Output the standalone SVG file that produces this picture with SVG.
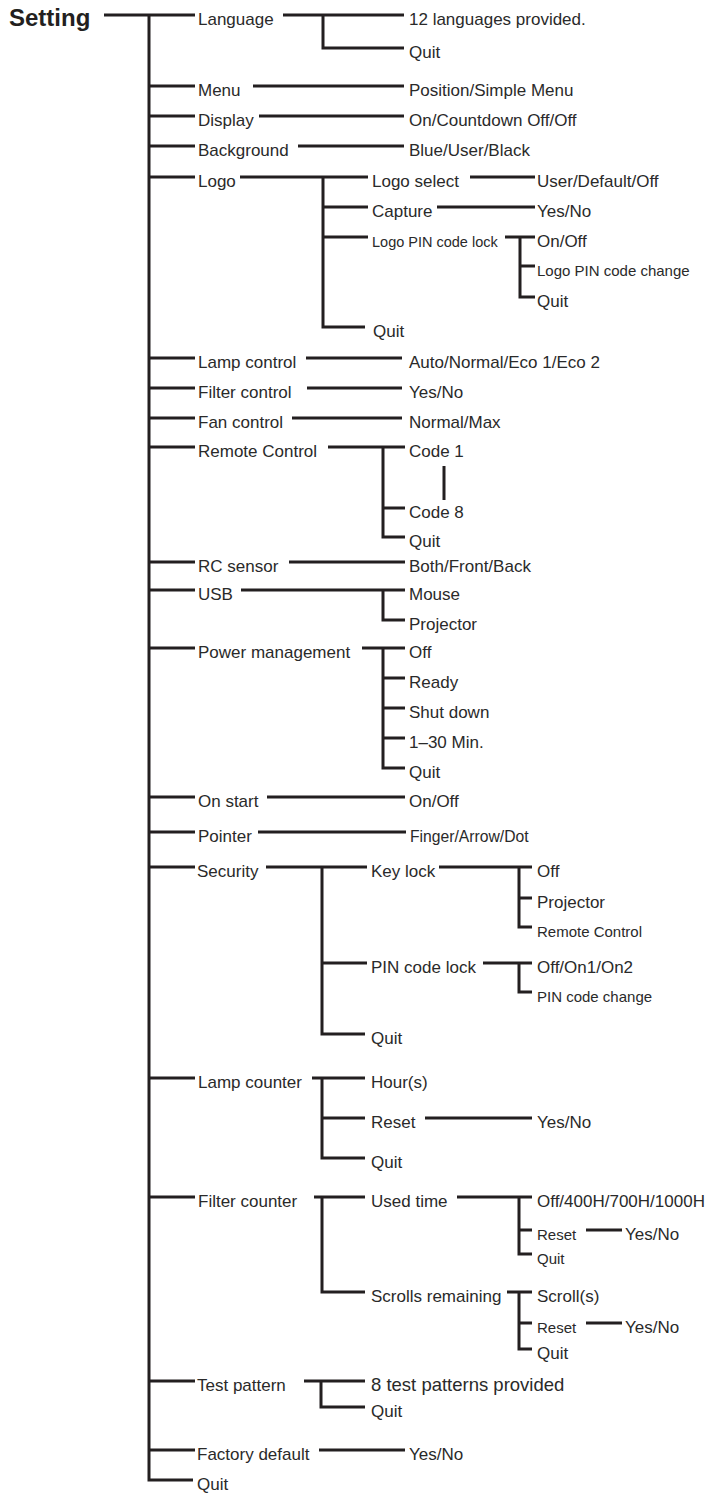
<svg xmlns="http://www.w3.org/2000/svg" width="711" height="1493" viewBox="0 0 711 1493">
<style>
.t{font-family:"Liberation Sans",Arial,sans-serif;font-size:17px;fill:#2a2a2a}
.s{font-size:15px}
.b{font-weight:bold;font-size:24px;fill:#231f20}
.c path{fill:none;stroke:#231f20;stroke-width:3;stroke-linejoin:miter;stroke-linecap:butt}
</style>
<rect width="711" height="1493" fill="#fff"/>
<g class="c" id="connectors">
<path d="M104,15H195M149,15V1480H193"/>
<path d="M149,86H195M149,116H195M149,146H195M149,177H195M149,358H195M149,388H195M149,418H195M149,447H195M149,562H195M149,590H195M149,648H195M149,797H195M149,832H195M149,867H195M149,1078H195M149,1197H195M149,1381H195M149,1450H195"/>
<path d="M283,15H404M323,15V48H404"/>
<path d="M253,86H404M259,116H404M298,146H404"/>
<path d="M240,177H368M323,177V327H365M323,207H368M323,237H368"/>
<path d="M470,177H535M437,207H535M505,237H535M520,237V297H535M520,266H535"/>
<path d="M306,358H402M307,388H402M292,418H402"/>
<path d="M328,447H405M383,447V537H405M383,508H405M444,466V500"/>
<path d="M289,562H405M241,590H405M383,590V620H405"/>
<path d="M362,648H405M383,648V768H405M383,678H405M383,708H405M383,738H405"/>
<path d="M267,797H405M258,832H406"/>
<path d="M266,867H367M322,867V1034H365M322,963H367"/>
<path d="M439,867H532M519,867V927H532M519,898H532M483,963H532M519,963V992H532"/>
<path d="M312,1078H365M322,1078V1158H365M322,1118H365M425,1118H532"/>
<path d="M314,1197H365M322,1197V1292H365"/>
<path d="M457,1197H532M519,1197V1254H532M519,1230H532M586,1230H622"/>
<path d="M507,1292H532M519,1292V1349H532M519,1323H532M586,1323H622"/>
<path d="M304,1381H365M321,1381V1407H365M319,1450H405"/>
</g>
<g id="n-setting"><text class="t b" x="9" y="26">Setting</text></g>
<g id="n-language"><text class="t" x="198" y="25">Language</text></g>
<g id="n-language-12"><text class="t" x="409" y="25">12 languages provided.</text></g>
<g id="n-language-quit"><text class="t" x="409" y="58">Quit</text></g>
<g id="n-menu"><text class="t" x="198" y="96">Menu</text></g>
<g id="n-menu-pos"><text class="t" x="409" y="96">Position/Simple Menu</text></g>
<g id="n-display"><text class="t" x="198" y="126">Display</text></g>
<g id="n-display-opt"><text class="t" x="409" y="126">On/Countdown Off/Off</text></g>
<g id="n-background"><text class="t" x="198" y="156">Background</text></g>
<g id="n-background-opt"><text class="t" x="409" y="156">Blue/User/Black</text></g>
<g id="n-logo"><text class="t" x="198" y="187">Logo</text></g>
<g id="n-logo-select"><text class="t" x="372" y="187">Logo select</text></g>
<g id="n-logo-select-opt"><text class="t" x="537" y="187">User/Default/Off</text></g>
<g id="n-capture"><text class="t" x="372" y="217">Capture</text></g>
<g id="n-capture-opt"><text class="t" x="537" y="217">Yes/No</text></g>
<g id="n-logo-pin"><text class="t s" x="372" y="247" style="font-size:14.5px">Logo PIN code lock</text></g>
<g id="n-logo-pin-onoff"><text class="t" x="537" y="247">On/Off</text></g>
<g id="n-logo-pin-change"><text class="t s" x="537" y="276">Logo PIN code change</text></g>
<g id="n-logo-pin-quit"><text class="t" x="537" y="307">Quit</text></g>
<g id="n-logo-quit"><text class="t" x="373" y="337">Quit</text></g>
<g id="n-lamp-control"><text class="t" x="198" y="368">Lamp control</text></g>
<g id="n-lamp-control-opt"><text class="t" x="409" y="368">Auto/Normal/Eco 1/Eco 2</text></g>
<g id="n-filter-control"><text class="t" x="198" y="398">Filter control</text></g>
<g id="n-filter-control-opt"><text class="t" x="409" y="398">Yes/No</text></g>
<g id="n-fan-control"><text class="t" x="198" y="428">Fan control</text></g>
<g id="n-fan-control-opt"><text class="t" x="409" y="428">Normal/Max</text></g>
<g id="n-remote"><text class="t" x="198" y="457">Remote Control</text></g>
<g id="n-code1"><text class="t" x="409" y="457">Code 1</text></g>
<g id="n-code8"><text class="t" x="409" y="518">Code 8</text></g>
<g id="n-remote-quit"><text class="t" x="409" y="547">Quit</text></g>
<g id="n-rc-sensor"><text class="t" x="198" y="572">RC sensor</text></g>
<g id="n-rc-sensor-opt"><text class="t" x="409" y="572">Both/Front/Back</text></g>
<g id="n-usb"><text class="t" x="198" y="600">USB</text></g>
<g id="n-usb-mouse"><text class="t" x="409" y="600">Mouse</text></g>
<g id="n-usb-projector"><text class="t" x="409" y="630">Projector</text></g>
<g id="n-power"><text class="t" x="198" y="658">Power management</text></g>
<g id="n-power-off"><text class="t" x="409" y="658">Off</text></g>
<g id="n-power-ready"><text class="t" x="409" y="688">Ready</text></g>
<g id="n-power-shut"><text class="t" x="409" y="718">Shut down</text></g>
<g id="n-power-min"><text class="t" x="409" y="748">1–30 Min.</text></g>
<g id="n-power-quit"><text class="t" x="409" y="778">Quit</text></g>
<g id="n-onstart"><text class="t" x="198" y="807">On start</text></g>
<g id="n-onstart-opt"><text class="t" x="409" y="807">On/Off</text></g>
<g id="n-pointer"><text class="t" x="198" y="842">Pointer</text></g>
<g id="n-pointer-opt"><text class="t" x="410" y="842" style="font-size:15.7px">Finger/Arrow/Dot</text></g>
<g id="n-security"><text class="t" x="197" y="877">Security</text></g>
<g id="n-keylock"><text class="t" x="371" y="877">Key lock</text></g>
<g id="n-keylock-off"><text class="t" x="537" y="877">Off</text></g>
<g id="n-keylock-projector"><text class="t" x="537" y="908">Projector</text></g>
<g id="n-keylock-remote"><text class="t s" x="537" y="937">Remote Control</text></g>
<g id="n-pinlock"><text class="t" x="371" y="973">PIN code lock</text></g>
<g id="n-pinlock-opt"><text class="t" x="537" y="973">Off/On1/On2</text></g>
<g id="n-pinlock-change"><text class="t s" x="537" y="1002">PIN code change</text></g>
<g id="n-security-quit"><text class="t" x="371" y="1044">Quit</text></g>
<g id="n-lamp-counter"><text class="t" x="198" y="1088">Lamp counter</text></g>
<g id="n-lamp-hours"><text class="t" x="371" y="1088">Hour(s)</text></g>
<g id="n-lamp-reset"><text class="t" x="371" y="1128">Reset</text></g>
<g id="n-lamp-reset-opt"><text class="t" x="537" y="1128">Yes/No</text></g>
<g id="n-lamp-quit"><text class="t" x="371" y="1168">Quit</text></g>
<g id="n-filter-counter"><text class="t" x="198" y="1207">Filter counter</text></g>
<g id="n-used-time"><text class="t" x="371" y="1207">Used time</text></g>
<g id="n-used-time-opt"><text class="t" x="537" y="1207">Off/400H/700H/1000H</text></g>
<g id="n-used-reset"><text class="t s" x="537" y="1240">Reset</text></g>
<g id="n-used-reset-opt"><text class="t" x="625" y="1240">Yes/No</text></g>
<g id="n-used-quit"><text class="t s" x="537" y="1264">Quit</text></g>
<g id="n-scrolls"><text class="t" x="371" y="1302">Scrolls remaining</text></g>
<g id="n-scrolls-opt"><text class="t" x="537" y="1302">Scroll(s)</text></g>
<g id="n-scrolls-reset"><text class="t s" x="537" y="1333">Reset</text></g>
<g id="n-scrolls-reset-opt"><text class="t" x="625" y="1333">Yes/No</text></g>
<g id="n-scrolls-quit"><text class="t" x="537" y="1359">Quit</text></g>
<g id="n-test"><text class="t" x="197" y="1391">Test pattern</text></g>
<g id="n-test-opt"><text class="t" x="371" y="1391" style="font-size:18.5px">8 test patterns provided</text></g>
<g id="n-test-quit"><text class="t" x="371" y="1417">Quit</text></g>
<g id="n-factory"><text class="t" x="197" y="1460">Factory default</text></g>
<g id="n-factory-opt"><text class="t" x="409" y="1460">Yes/No</text></g>
<g id="n-quit"><text class="t" x="197" y="1490">Quit</text></g>
</svg>
